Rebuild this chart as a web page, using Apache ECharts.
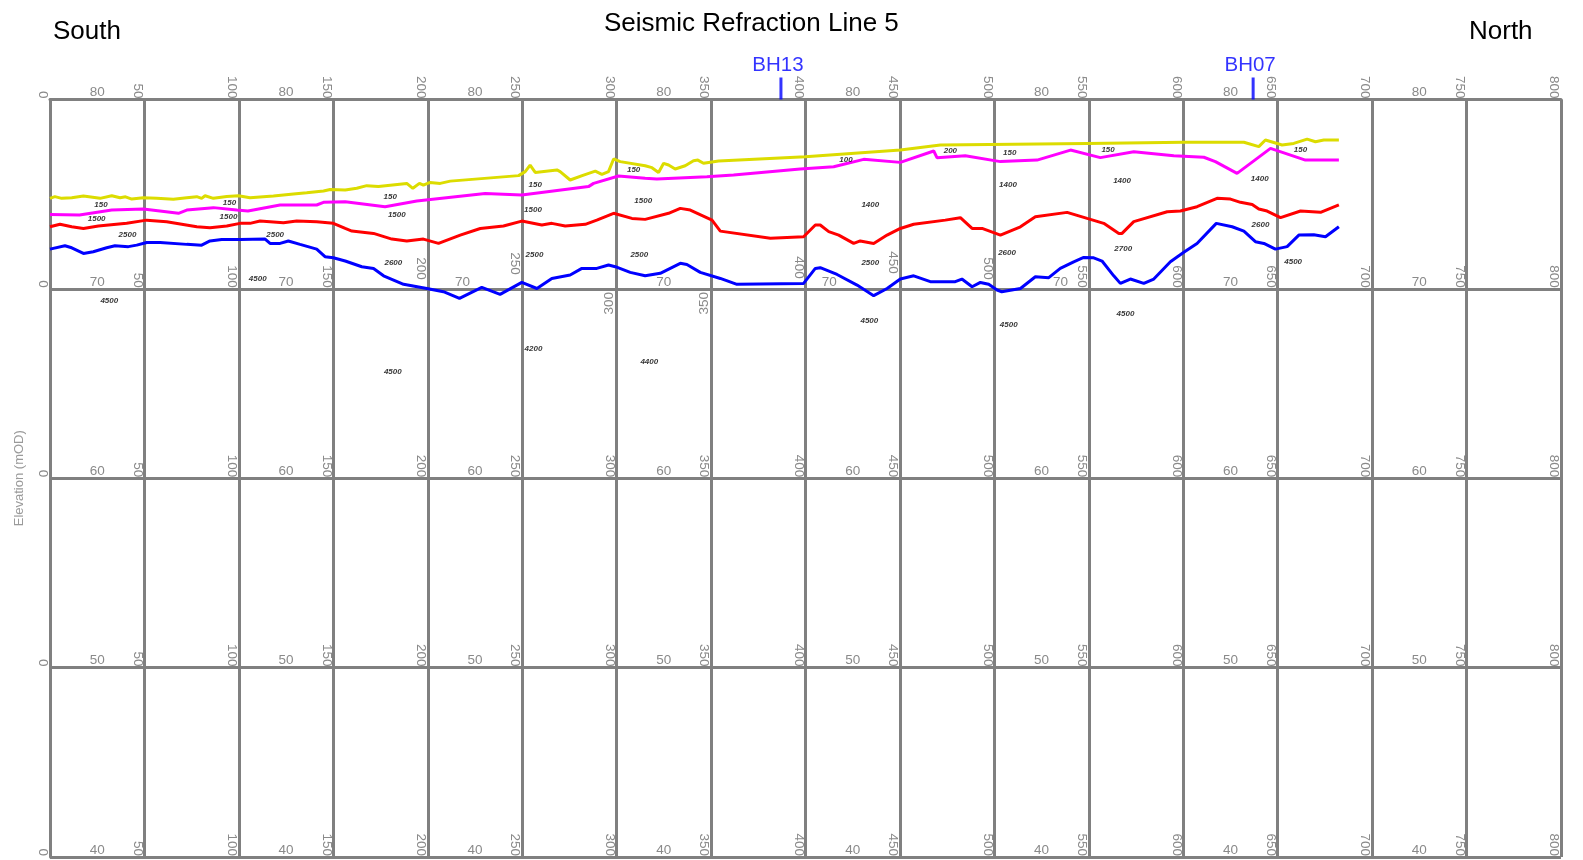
<!DOCTYPE html>
<html><head><meta charset="utf-8">
<script src="https://cdn.jsdelivr.net/npm/echarts@6/dist/echarts.min.js"></script>
<style>html,body{margin:0;padding:0;background:#fff}#c{width:1583px;height:860px}</style>
</head><body><div id="c"></div>
<script>
// ---------------- DATA ----------------
const chartTitle = 'Seismic Refraction Line 5';
const leftEndLabel = 'South';
const rightEndLabel = 'North';
const yAxisName = 'Elevation (mOD)';

// Ground surface (yellow)
const groundX = [0,2.6,6.2,11.5,17.7,26.5,32.7,37.1,40,43.3,49.4,56.5,65.3,72.4,77.7,80.3,82.1,86.5,93.6,99.8,105.9,118.3,128.9,135.9,144.8,148.3,156.3,162.4,167.7,173.9,188.9,192.1,195.6,197.7,201.2,206.6,211.9,248.1,251.6,254.2,256.9,268.4,270.1,275.4,282.5,288.7,292.2,295.7,298.4,301.9,315.1,318.7,322.2,324.9,327.5,331,336.3,340.7,343,346,354,399.9,450.2,471.4,549.1,600.3,632.1,640,643.5,649.7,652.3,658.5,665.6,670,674.4,682.4];
const groundY = [74.78,74.87,74.78,74.81,74.90,74.78,74.92,74.81,74.86,74.74,74.81,74.78,74.73,74.81,74.87,74.78,74.92,74.78,74.88,74.92,74.81,74.90,75.01,75.08,75.17,75.25,75.22,75.31,75.45,75.40,75.57,75.31,75.57,75.48,75.62,75.57,75.69,75.98,76.19,76.54,76.15,76.28,76.19,75.75,76.01,76.22,76.05,76.19,76.86,76.72,76.50,76.40,76.15,76.63,76.54,76.33,76.50,76.77,76.80,76.63,76.75,76.98,77.33,77.60,77.68,77.74,77.74,77.51,77.86,77.68,77.60,77.68,77.91,77.77,77.86,77.86];

// First refractor (magenta)
const layer1X = [0,15.6,32.7,49.4,68,72.4,86.5,98.9,104.8,121.8,141.2,144.8,156.3,177.4,194.2,230.4,249.8,285.1,287.8,301,315.1,321.3,347.8,361.9,397.2,414.9,430.8,450.2,467.9,469.6,484.6,503.2,522.6,540.3,556.1,573.8,595,610.9,617,628.5,646.2,664.7,682.4];
const layer1Y = [73.93,73.90,74.16,74.22,73.99,74.16,74.29,74.16,74.11,74.43,74.43,74.57,74.60,74.34,74.64,75.04,74.96,75.40,75.57,75.96,75.84,75.80,75.92,76.01,76.33,76.45,76.84,76.68,77.28,76.93,77.03,76.72,76.80,77.33,76.93,77.24,77.03,76.95,76.72,76.10,77.42,76.80,76.80];

// Second refractor (red)
const layer2X = [0,5.3,11.5,17.7,25.6,40.6,51.2,61.8,77.7,84.7,93.6,100.6,105.9,111.2,123.6,130.6,141.2,150,156.3,159.8,171.3,181,188.9,197.7,205.7,217.2,227.8,240.1,249.8,260.4,265.7,272.8,283.4,289.5,298.4,308.1,315.1,327.5,333.7,339,350.5,354.9,381.4,399,405.2,407.8,412.3,417.6,425.5,429,436.1,443.2,450.2,457.3,474,482,488.2,493.5,503.2,513.8,521.7,538.5,549.1,557.9,565.9,567.6,573.8,591.5,598.5,607.3,617.9,625,630.3,636.5,640,644.4,651.5,662.1,672.7,682.4];
const layer2Y = [73.28,73.41,73.28,73.19,73.32,73.46,73.63,73.55,73.28,73.23,73.32,73.46,73.46,73.58,73.49,73.58,73.55,73.46,73.19,73.05,72.93,72.63,72.53,72.63,72.40,72.84,73.19,73.32,73.58,73.37,73.46,73.32,73.41,73.63,73.99,73.72,73.67,73.99,74.25,74.16,73.63,73.05,72.67,72.75,73.37,73.37,73.02,72.84,72.40,72.53,72.40,72.84,73.19,73.41,73.63,73.76,73.19,73.19,72.84,73.28,73.81,74.04,73.72,73.46,72.93,72.93,73.55,74.07,74.11,74.34,74.78,74.74,74.57,74.46,74.22,74.11,73.76,74.11,74.04,74.43];

// Third refractor (blue)
const layer3X = [0,7.9,11.5,17.7,22.9,30,34.4,41.5,45.9,51.2,58.3,72.4,80.3,84.7,90.9,100.6,113.9,116.5,121.8,126.2,132.4,141.2,145.6,150,156.3,165.1,171.3,176.6,187.2,199.5,208.3,216.8,228.6,238.3,249.8,257.8,265.7,275.4,281.6,289.5,295.7,299.3,307.2,315.1,323.1,333.7,337.2,344.3,354.9,363.7,399,405.2,407.8,416.7,427.3,436.1,443.2,450.2,457.3,466.1,479.3,482.8,488.2,492.6,497,501.4,503.9,513.8,521.7,528.8,534.9,542,547.3,552.6,557,563.2,566.7,572,579.1,584.4,593.2,600.3,607.3,617.5,625.9,632.1,638.2,642.7,648.8,655,661.2,669.1,675.3,682.4];
const layer3Y = [72.10,72.28,72.17,71.87,71.96,72.17,72.28,72.23,72.31,72.45,72.45,72.35,72.31,72.53,72.61,72.61,72.63,72.40,72.40,72.53,72.35,72.10,71.70,71.64,71.47,71.17,71.08,70.69,70.24,70.02,69.85,69.50,70.08,69.71,70.34,70.02,70.55,70.73,71.08,71.08,71.26,71.17,70.87,70.69,70.82,71.35,71.29,70.87,70.55,70.24,70.29,71.08,71.12,70.76,70.20,69.64,70.02,70.52,70.69,70.38,70.38,70.52,70.11,70.34,70.24,69.94,69.85,70.02,70.64,70.59,71.08,71.43,71.66,71.64,71.47,70.69,70.29,70.52,70.29,70.52,71.43,71.93,72.40,73.46,73.28,73.05,72.49,72.40,72.10,72.23,72.84,72.86,72.75,73.28];

// Velocity annotations (m/s) placed at chainage / elevation
const velX = [27,24.7,41,31.4,95,94.5,119.2,110,180.1,183.6,181.8,181.5,256.9,255.7,256.5,256,309,314.1,312,317.3,421.4,434.3,434.3,433.8,476.7,508.1,507.2,506.7,507.6,560.2,567.6,568.2,569.4,662.1,640.5,640.9,658.2];
const velY = [74.43,73.69,72.84,69.36,74.52,73.78,72.84,70.55,74.87,73.90,71.40,65.62,75.52,74.15,71.82,66.86,76.28,74.64,71.82,66.16,76.84,74.43,71.40,68.34,77.30,77.16,75.47,71.88,68.12,77.32,75.69,72.14,68.71,77.33,75.80,73.37,71.43];
const velText = ['150','1500','2500','4500','150','1500','2500','4500','150','1500','2600','4500','150','1500','2500','4200','150','1500','2500','4400','100','1400','2500','4500','200','150','1400','2600','4500','150','1400','2700','4500','150','1400','2600','4500'];

// Boreholes
const boreholeNames = ['BH13','BH07'];
const boreholeX = [387, 637];

// Axis ranges / tick labels
const xMin = 0, xMax = 800, xStep = 50;
const yMin = 40, yMax = 80, yStep = 10;
const elevationLabelColumns = [25,125,225,325,425,525,625,725];

// ---------------- LAYOUT / STYLE ----------------
const FONT = '"Liberation Sans", Arial, Helvetica, sans-serif';
const GRID = {left: 50, top: 99.5, width: 1511, height: 757.5};
const nRows = (yMax - yMin) / yStep;
const rowH = GRID.height / nRows;
const pxPerX = GRID.width / (xMax - xMin);
const GRAY = '#808080', LABEL_GRAY = '#8a8a8a';
const LFS = 13.5;
const BASE_MARGIN = 1;
// label nudges on the 70 m row (avoid overlaps with the profile lines)
const row1Raised = [{ticks: [200, 500], raise: 8}, {ticks: [400], raise: 9}, {ticks: [250], raise: 13}, {ticks: [450], raise: 14}];
const row1Below = [300, 350];
const row1ColShift = {2: -12.5, 4: -23.5, 5: 19};
const row1Special = row1Below.concat(...row1Raised.map(g => g.ticks));

const zip = (a, b) => a.map((v, i) => [v, b[i]]);

function baseLabel(extra) {
  return Object.assign({color: LABEL_GRAY, fontSize: LFS, fontFamily: FONT}, extra);
}
function labelOnlyXAxis(position, offset, margin, valign, formatter) {
  return {
    type: 'value', gridIndex: 0, position: position, offset: offset,
    min: xMin, max: xMax, interval: xStep,
    axisLine: {show: false, onZero: false}, axisTick: {show: false}, splitLine: {show: false},
    axisLabel: baseLabel({rotate: 90, margin: margin, verticalAlign: valign, formatter: formatter})
  };
}

const xAxes = [];
for (let r = 0; r <= nRows; r++) {
  const formatter = r === 1 ? (v => row1Special.indexOf(v) >= 0 ? '' : String(v)) : (v => String(v));
  xAxes.push({
    type: 'value', gridIndex: 0, position: 'top', offset: -r * rowH,
    min: xMin, max: xMax, interval: xStep,
    axisLine: {show: r === 0, onZero: false, lineStyle: {color: GRAY, width: 3}},
    axisTick: {show: false},
    splitLine: {show: r === 0, lineStyle: {color: GRAY, width: 3}},
    axisLabel: baseLabel({rotate: 90, margin: BASE_MARGIN, verticalAlign: 'top', formatter: formatter})
  });
}
// raised labels on the 70 m row
row1Raised.forEach(g => {
  xAxes.push(labelOnlyXAxis('top', -rowH, BASE_MARGIN + g.raise, 'top',
    v => g.ticks.indexOf(v) >= 0 ? String(v) : ''));
});
// labels on the 70 m row placed below the line
xAxes.push(labelOnlyXAxis('bottom', -(nRows - 1) * rowH, 3, 'bottom',
  v => row1Below.indexOf(v) >= 0 ? String(v) : ''));

const yAxes = [{
  type: 'value', gridIndex: 0, position: 'left', min: yMin, max: yMax, interval: yStep,
  name: yAxisName, nameLocation: 'middle', nameGap: 24,
  nameTextStyle: {color: '#9a9a9a', fontSize: 13, fontFamily: FONT},
  axisLine: {show: true, onZero: false, lineStyle: {color: GRAY, width: 3}},
  axisTick: {show: false},
  splitLine: {show: true, lineStyle: {color: GRAY, width: 3}},
  axisLabel: {show: false}
}];
elevationLabelColumns.forEach((cx, k) => {
  const rich = {};
  const s = row1ColShift[k];
  if (s) rich.sh = {color: LABEL_GRAY, fontSize: LFS, fontFamily: FONT, padding: s < 0 ? [0, -2 * s, 0, 0] : [0, 0, 0, 2 * s]};
  yAxes.push({
    type: 'value', gridIndex: 0, position: 'left', offset: -(cx - xMin) * pxPerX,
    min: yMin, max: yMax, interval: yStep,
    axisLine: {show: false, onZero: false}, axisTick: {show: false}, splitLine: {show: false},
    axisLabel: baseLabel({align: 'center', verticalAlign: 'bottom', margin: 0, rich: rich,
      formatter: v => (v === 70 && s) ? '{sh|' + v + '}' : String(v)})
  });
});

const lineSeries = (name, xs, ys, color) => ({
  name: name, type: 'line', xAxisIndex: 0, yAxisIndex: 0,
  data: zip(xs, ys), showSymbol: false, symbol: 'none',
  lineStyle: {color: color, width: 3}, itemStyle: {color: color}, z: 3
});

const option = {
  animation: false,
  backgroundColor: '#ffffff',
  textStyle: {fontFamily: FONT},
  title: [
    {text: chartTitle, left: 604, top: 11, padding: 0, textStyle: {fontSize: 26, fontWeight: 'normal', color: '#000', fontFamily: FONT}},
    {text: leftEndLabel, left: 53, top: 19, padding: 0, textStyle: {fontSize: 26, fontWeight: 'normal', color: '#000', fontFamily: FONT}},
    {text: rightEndLabel, left: 1469, top: 19, padding: 0, textStyle: {fontSize: 26, fontWeight: 'normal', color: '#000', fontFamily: FONT}}
  ],
  grid: {left: GRID.left, top: GRID.top, width: GRID.width, height: GRID.height, containLabel: false, outerBoundsMode: 'none'},
  xAxis: xAxes,
  yAxis: yAxes,
  series: [
    lineSeries('Ground surface', groundX, groundY, '#dcdc00'),
    lineSeries('Refractor 1', layer1X, layer1Y, '#ff00ff'),
    lineSeries('Refractor 2', layer2X, layer2Y, '#ff0000'),
    lineSeries('Refractor 3', layer3X, layer3Y, '#0000ff'),
    {
      name: 'Velocities', type: 'scatter', xAxisIndex: 0, yAxisIndex: 0, clip: false,
      data: velX.map((x, i) => [x, velY[i], velText[i]]),
      symbolSize: 1, itemStyle: {color: 'rgba(0,0,0,0)'}, z: 4,
      label: {show: true, position: 'inside', formatter: p => p.data[2],
        color: '#000', fontSize: 8, fontWeight: 'bold', fontStyle: 'italic', fontFamily: FONT}
    },
    {
      name: 'Boreholes', type: 'scatter', xAxisIndex: 0, yAxisIndex: 0, clip: false,
      data: boreholeX.map((x, i) => ({value: [x, yMax], name: boreholeNames[i]})),
      symbol: 'rect', symbolSize: [3, 22], symbolOffset: [0, -11],
      itemStyle: {color: '#0000ff'}, z: 5,
      label: {show: true, position: 'top', distance: 2, offset: [-3, 0], formatter: p => p.name,
        color: '#0000ff', fontSize: 20.5, fontFamily: FONT}
    }
  ]
};

const chart = echarts.init(document.getElementById('c'), null, {renderer: 'canvas'});
chart.setOption(option);
</script>
</body></html>
